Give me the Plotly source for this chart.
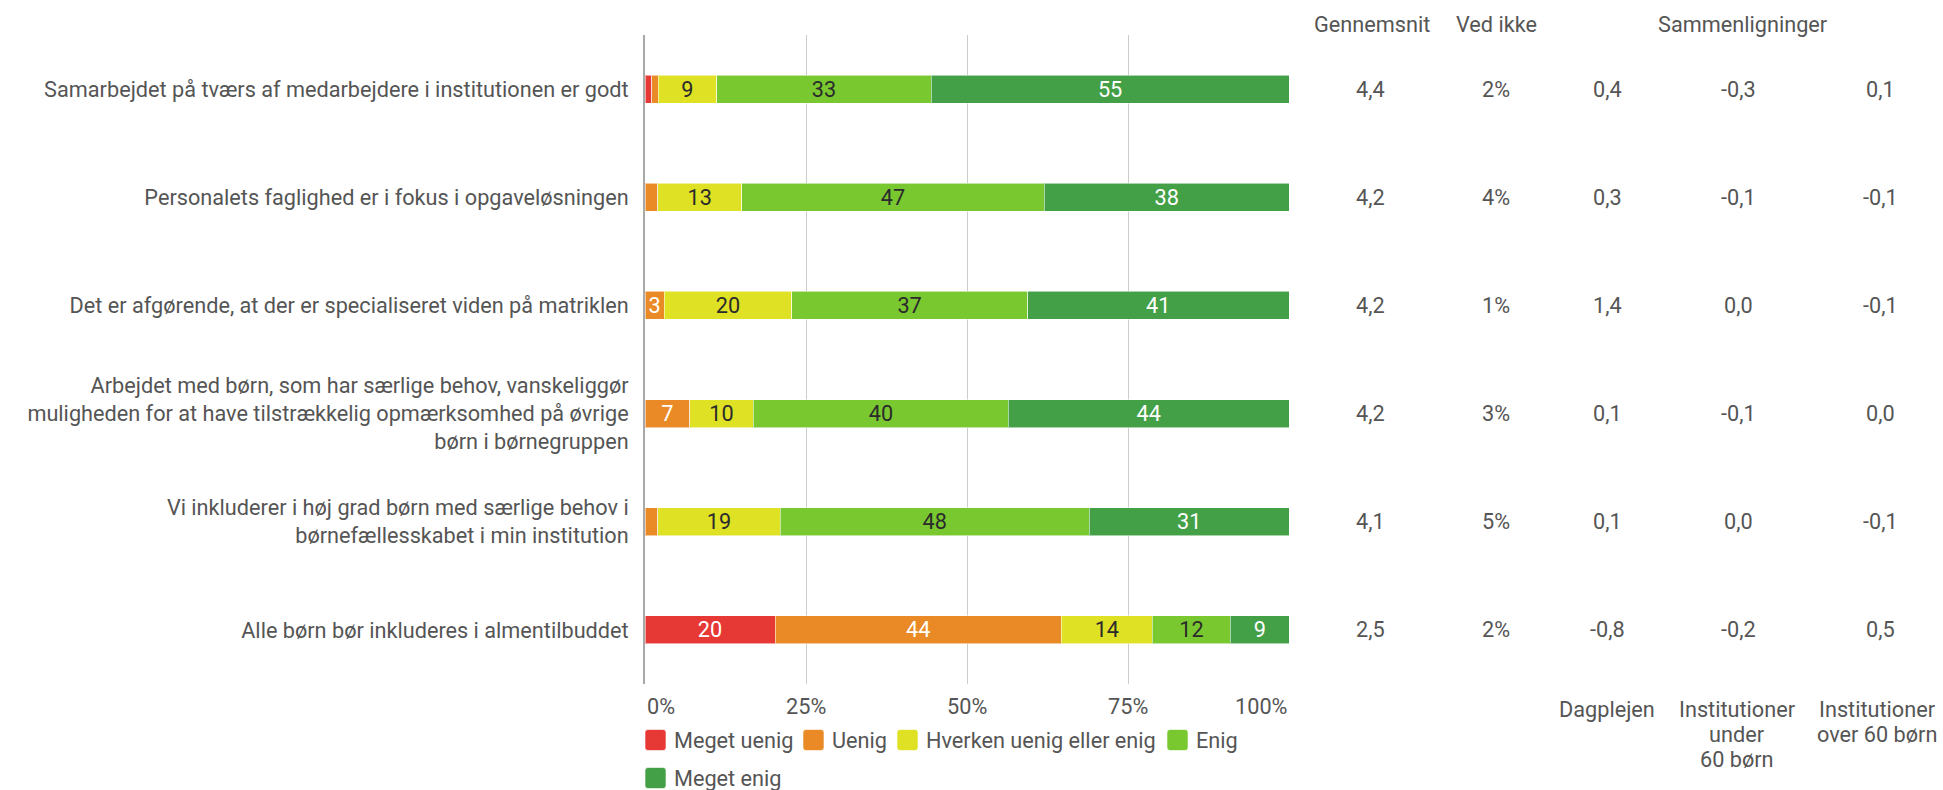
import plotly.graph_objects as go

# --- data -------------------------------------------------------------------
statements = [
    "Samarbejdet på tværs af medarbejdere i institutionen er godt",
    "Personalets faglighed er i fokus i opgaveløsningen",
    "Det er afgørende, at der er specialiseret viden på matriklen",
    "Arbejdet med børn, som har særlige behov, vanskeliggør<br>muligheden for at have tilstrækkelig opmærksomhed på øvrige<br>børn i børnegruppen",
    "Vi inkluderer i høj grad børn med særlige behov i<br>børnefællesskabet i min institution",
    "Alle børn bør inkluderes i almentilbuddet",
]

response_names = ["Meget uenig", "Uenig", "Hverken uenig eller enig", "Enig", "Meget enig"]

meget_uenig = [1, 0, 0, 0, 0, 20]
uenig = [1, 2, 3, 7, 2, 44]
hverken = [9, 13, 20, 10, 19, 14]
enig = [33, 47, 37, 40, 48, 12]
meget_enig = [55, 38, 41, 44, 31, 9]

gennemsnit = [4.4, 4.2, 4.2, 4.2, 4.1, 2.5]
ved_ikke = [2, 4, 1, 3, 5, 2]
dagplejen = [0.4, 0.3, 1.4, 0.1, 0.1, -0.8]
inst_under_60 = [-0.3, -0.1, 0.0, -0.1, 0.0, -0.2]
inst_over_60 = [0.1, -0.1, -0.1, 0.0, -0.1, 0.5]

x_ticks = [0, 25, 50, 75, 100]

# --- styling ----------------------------------------------------------------
FONT = "Roboto"
FS = 21.7
TXT = "#555555"
colors = ["#E63935", "#EA8A26", "#DFE125", "#79C830", "#43A047"]
label_colors = ["#ffffff", "#ffffff", "#2b2b2b", "#2b2b2b", "#ffffff"]

W, H = 1943, 790
L, R, T, B = 645, 654, 35, 106
PW, PH = W - L - R, H - T - B


def px_x(px):
    return (px - L) / PW


def px_y(py):
    return 1 - (py - T) / PH


def dk(v):
    return f"{v:.1f}".replace(".", ",")


series = [meget_uenig, uenig, hverken, enig, meget_enig]

fig = go.Figure()
for name, vals, col, lc in zip(response_names, series, colors, label_colors):
    fig.add_trace(go.Bar(
        y=statements,
        x=vals,
        orientation="h",
        name=name,
        marker=dict(color=col, line=dict(color="rgba(255,255,255,0.55)", width=1)),
        text=[str(v) if v >= 3 else "" for v in vals],
        textposition="inside",
        insidetextanchor="middle",
        textangle=0,
        textfont=dict(family=FONT, size=FS, color=lc),
        hoverinfo="name+x",
    ))

annotations = []

# x-axis tick labels (outer labels kept inside the plot width)
for tv in x_ticks:
    anchor = "left" if tv == x_ticks[0] else ("right" if tv == x_ticks[-1] else "center")
    annotations.append(dict(
        x=tv, xref="x", y=0, yref="paper", yshift=-22, yanchor="middle",
        xanchor=anchor, text=f"{tv}%", showarrow=False,
        font=dict(family=FONT, size=FS, color=TXT),
    ))

# side table: headers, values per statement, column captions
col_x = {"gen": 1370, "ved": 1496, "dag": 1607, "under": 1738, "over": 1880}
headers = [("Gennemsnit", 1372), ("Ved ikke", 1496), ("Sammenligninger", 1743)]
for text, x in headers:
    annotations.append(dict(
        x=px_x(x), xref="paper", y=1, yref="paper", yshift=T - 24,
        yanchor="middle", xanchor="center", text=text, showarrow=False,
        font=dict(family=FONT, size=FS, color=TXT),
    ))

columns = [
    ("gen", [dk(v) for v in gennemsnit]),
    ("ved", [f"{v}%" for v in ved_ikke]),
    ("dag", [dk(v) for v in dagplejen]),
    ("under", [dk(v) for v in inst_under_60]),
    ("over", [dk(v) for v in inst_over_60]),
]
for key, texts in columns:
    for stmt, t in zip(statements, texts):
        annotations.append(dict(
            x=px_x(col_x[key]), xref="paper", y=stmt, yref="y",
            xanchor="center", yanchor="middle", text=t, showarrow=False,
            font=dict(family=FONT, size=FS, color=TXT),
        ))

captions = [
    ("dag", ["Dagplejen"]),
    ("under", ["Institutioner", "under", "60 børn"]),
    ("over", ["Institutioner", "over 60 børn"]),
]
cap_x = {"dag": 1607, "under": 1737, "over": 1877}
for key, lines in captions:
    for i, line in enumerate(lines):
        annotations.append(dict(
            x=px_x(cap_x[key]), xref="paper", y=0, yref="paper",
            yshift=-(709 - (T + PH)) - 25 * i, yanchor="middle",
            xanchor="center", text=line, showarrow=False,
            font=dict(family=FONT, size=FS, color=TXT),
        ))

# legend: rounded swatches with labels
legend_pos = [(645, 740), (803, 740), (897, 740), (1167, 740), (645, 778)]
shapes = []
SW, RAD = 21, 3
for name, col, (lx, ly) in zip(response_names, colors, legend_pos):
    x0, x1 = lx, lx + SW
    y0, y1 = ly - SW / 2, ly + SW / 2
    pts = [
        ("M", x0 + RAD, y0), ("L", x1 - RAD, y0), ("Q", x1, y0, x1, y0 + RAD),
        ("L", x1, y1 - RAD), ("Q", x1, y1, x1 - RAD, y1), ("L", x0 + RAD, y1),
        ("Q", x0, y1, x0, y1 - RAD), ("L", x0, y0 + RAD), ("Q", x0, y0, x0 + RAD, y0),
    ]
    path = ""
    for p in pts:
        cmd, coords = p[0], p[1:]
        conv = []
        for j in range(0, len(coords), 2):
            conv.append(f"{px_x(coords[j]):.5f},{px_y(coords[j + 1]):.5f}")
        path += cmd + " ".join(conv) + " "
    shapes.append(dict(
        type="path", path=path + "Z", xref="paper", yref="paper",
        fillcolor=col, line=dict(color="rgba(255,255,255,0.6)", width=1),
    ))
    annotations.append(dict(
        x=px_x(lx + 27), xref="paper", y=px_y(ly), yref="paper",
        xanchor="left", yanchor="middle", text=name, showarrow=False,
        font=dict(family=FONT, size=FS, color=TXT),
    ))

fig.update_layout(
    width=W,
    height=H,
    margin=dict(l=L, r=R, t=T, b=B, pad=0),
    barmode="stack",
    barnorm="percent",
    bargap=0.74,
    showlegend=False,
    plot_bgcolor="white",
    paper_bgcolor="white",
    font=dict(family=FONT, size=FS, color=TXT),
    uniformtext=dict(minsize=FS, mode="show"),
    xaxis=dict(
        range=[0, 100],
        tickvals=x_ticks,
        showticklabels=False,
        showgrid=True,
        gridcolor="#cccccc",
        gridwidth=1,
        zeroline=False,
        showline=False,
        ticks="",
        automargin=False,
        fixedrange=True,
    ),
    yaxis=dict(
        autorange="reversed",
        showgrid=False,
        zeroline=False,
        showline=True,
        linecolor="#a8a8a8",
        linewidth=2,
        ticks="",
        ticklabelstandoff=10,
        tickfont=dict(family=FONT, size=FS, color=TXT),
        automargin=False,
        fixedrange=True,
    ),
    annotations=annotations,
    shapes=shapes,
)

fig.write_html("out.html")
